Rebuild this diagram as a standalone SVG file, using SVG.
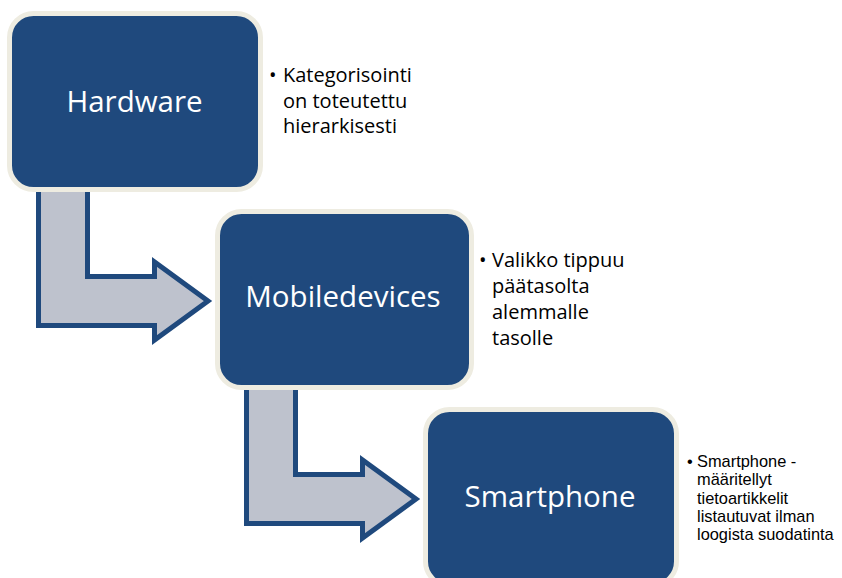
<svg xmlns="http://www.w3.org/2000/svg" width="842" height="578" viewBox="0 0 842 578">
  <style>
    .box { fill: #1F497D; stroke: #EEECE1; stroke-width: 5; }
    .title { font-family: "Open Sans", "Noto Sans", sans-serif; font-size: 29.5px; fill: #FFFFFF; text-anchor: middle; }
    .note { font-family: "Open Sans", "Noto Sans", sans-serif; font-size: 20px; fill: #000000; }
    .note-sm { font-family: "Liberation Sans", Arial, sans-serif; font-size: 16.4px; fill: #000000; }
    .bend { fill: #BEC2CD; stroke: #1F497D; stroke-width: 5; stroke-linejoin: miter; stroke-miterlimit: 10; }
  </style>
  <rect width="842" height="578" fill="#FFFFFF"/>

  <!-- bent arrows between levels (drawn beneath the boxes) -->
  <g id="connectors">
    <path class="bend" d="M38.5,180 H87.5 V276.5 H154.5 V262 L208,301 L154.5,340 V325.5 H38.5 Z"/>
    <path class="bend" d="M246.5,378 H295.5 V474.5 H362.5 V460 L416,499 L362.5,538 V523.5 H246.5 Z"/>
  </g>

  <g id="hardware">
    <rect class="box" x="9.5" y="13.5" width="251" height="176" rx="24" ry="24"/>
    <text class="title" x="134.5" y="112">Hardware</text>
  </g>

  <g id="mobiledevices">
    <rect class="box" x="217.5" y="211.5" width="254" height="176" rx="24" ry="24"/>
    <text class="title" x="343" y="307">Mobiledevices</text>
  </g>

  <g id="smartphone">
    <rect class="box" x="425.5" y="409.5" width="251" height="176" rx="24" ry="24"/>
    <text class="title" x="550" y="507">Smartphone</text>
  </g>

  <g id="note-hardware">
    <text class="note" x="269" y="82">•</text>
    <text class="note" x="283" y="82">Kategorisointi</text>
    <text class="note" x="283" y="108">on toteutettu</text>
    <text class="note" x="283" y="133">hierarkisesti</text>
  </g>

  <g id="note-mobiledevices">
    <text class="note" x="479" y="267">•</text>
    <text class="note" x="492" y="267">Valikko tippuu</text>
    <text class="note" x="492" y="293">päätasolta</text>
    <text class="note" x="492" y="319">alemmalle</text>
    <text class="note" x="492" y="345">tasolle</text>
  </g>

  <g id="note-smartphone">
    <text class="note-sm" x="687" y="467">•</text>
    <text class="note-sm" x="697" y="467">Smartphone -</text>
    <text class="note-sm" x="697" y="485.3">määritellyt</text>
    <text class="note-sm" x="697" y="503.6">tietoartikkelit</text>
    <text class="note-sm" x="697" y="521.9">listautuvat ilman</text>
    <text class="note-sm" x="697" y="540.2">loogista suodatinta</text>
  </g>
</svg>
